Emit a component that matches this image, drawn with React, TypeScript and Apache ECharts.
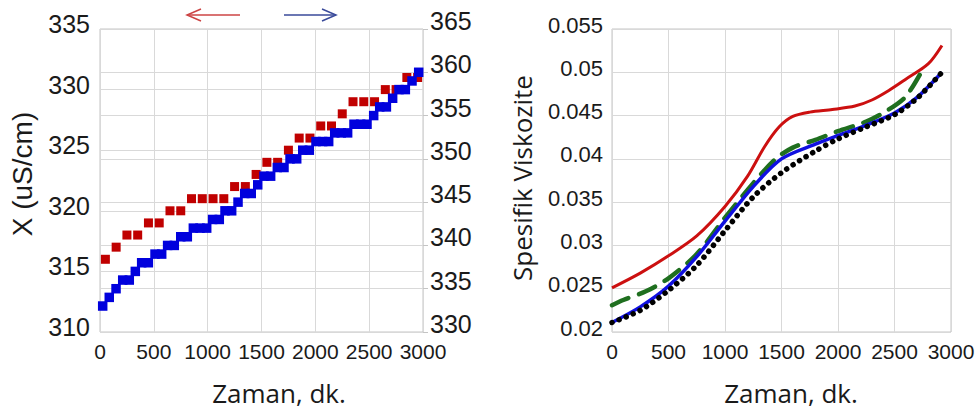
import React, { useEffect, useRef } from "react";
import * as echarts from "echarts";

// ---- Left panel: conductivity (two axes) ----
const redX = [50, 150, 250, 350, 450, 550, 650, 750, 850, 950, 1050, 1150, 1250, 1350, 1450, 1550, 1650, 1750, 1850, 1950, 2050, 2150, 2250, 2350, 2450, 2550, 2650, 2750, 2850, 2950];
const redVals = [316, 317, 318, 318, 319, 319, 320, 320, 321, 321, 321, 321, 322, 322, 323, 324, 324, 325, 326, 326, 327, 327, 328, 329, 329, 329, 330, 330, 331, 331];

const blueX = [25, 86, 149, 211, 272, 328, 387, 449, 511, 573, 628, 690, 750, 811, 867, 929, 991, 1046, 1108, 1161, 1223, 1282, 1344, 1405, 1465, 1523, 1585, 1647, 1709, 1765, 1827, 1883, 1944, 2006, 2068, 2124, 2180, 2241, 2300, 2359, 2421, 2480, 2542, 2598, 2660, 2718, 2777, 2836, 2898, 2960];
const blueVals = [333, 334, 335, 336, 336, 337, 338, 338, 339, 339, 340, 340, 341, 341, 342, 342, 342, 343, 343, 344, 344, 345, 346, 346, 347, 348, 348, 349, 349, 350, 350, 351, 351, 352, 352, 352, 353, 353, 353, 354, 354, 354, 355, 356, 356, 357, 358, 358, 359, 360];

const xTicks = [0, 500, 1000, 1500, 2000, 2500, 3000];

// ---- Right panel: specific viscosity ----
const visRedX = [0, 250, 500, 750, 1000, 1200, 1350, 1480, 1600, 1750, 1950, 2150, 2300, 2450, 2600, 2800, 2920];
const visRedV = [0.0251, 0.0268, 0.0288, 0.0311, 0.0345, 0.038, 0.0414, 0.0437, 0.0449, 0.0454, 0.0457, 0.0461, 0.0468, 0.0479, 0.0492, 0.051, 0.0531];

const visGreenX = [0, 100, 300, 500, 750, 1000, 1250, 1450, 1600, 1800, 2000, 2250, 2450, 2600, 2740];
const visGreenV = [0.0231, 0.0237, 0.0247, 0.0262, 0.029, 0.0332, 0.0372, 0.04, 0.0413, 0.0422, 0.0432, 0.0443, 0.0457, 0.0472, 0.0501];

const visBlueX = [0, 250, 500, 750, 1000, 1250, 1500, 1800, 2000, 2250, 2500, 2700, 2920];
const visBlueV = [0.0211, 0.0229, 0.0253, 0.0287, 0.0328, 0.0368, 0.04, 0.0417, 0.0427, 0.0439, 0.0453, 0.0471, 0.05];

const visBlackX = [0, 250, 500, 750, 1000, 1250, 1500, 1800, 2000, 2250, 2500, 2700, 2920];
const visBlackV = [0.0211, 0.0225, 0.0248, 0.0277, 0.0317, 0.0356, 0.0384, 0.0409, 0.0423, 0.0437, 0.0451, 0.047, 0.05];

const zip = (xs: number[], ys: number[]) => xs.map((x, i) => [x, ys[i]]);

const TICK_FONT = "Liberation Sans";
const TITLE_FONT = "Open Sans";
const GRID_COLOR = "#d9d9d9";

export default function App() {
  const ref = useRef<HTMLDivElement>(null);

  useEffect(() => {
    if (!ref.current) return;
    const chart = echarts.init(ref.current, undefined, { renderer: "svg" });

    const xAxisBase = (gridIndex: number) => ({
      gridIndex,
      type: "value" as const,
      min: xTicks[0],
      max: xTicks[xTicks.length - 1],
      interval: 500,
      axisLine: { show: false },
      axisTick: { show: false },
      splitLine: { show: true, lineStyle: { color: GRID_COLOR, width: 1 } },
      axisLabel: {
        fontSize: 21,
        fontFamily: TICK_FONT,
        color: "#1a1a1a",
        margin: 9,
        showMinLabel: true,
        showMaxLabel: true,
        formatter: (v: number) => String(v),
      },
    });

    const yLabel = (fontSize: number, margin: number, lift: number, extra: any = {}) => ({
      fontSize,
      fontFamily: TICK_FONT,
      color: "#1a1a1a",
      margin,
      verticalAlign: "bottom",
      lineHeight: lift * 2,
      showMinLabel: true,
      showMaxLabel: true,
      ...extra,
    });

    const lineSeries = (xs: number[], ys: number[], lineStyle: any) => ({
      type: "line",
      xAxisIndex: 1,
      yAxisIndex: 2,
      smooth: 0.3,
      showSymbol: false,
      lineStyle,
      data: zip(xs, ys),
    });

    const option: any = {
      animation: false,
      backgroundColor: "#ffffff",
      grid: [
        { left: 100, top: 29, width: 323, height: 303, show: true, borderColor: "#c4c4c4", borderWidth: 1, backgroundColor: "transparent" },
        { left: 612, top: 29, width: 339, height: 303, show: true, borderColor: "#c4c4c4", borderWidth: 1, backgroundColor: "transparent" },
      ],
      xAxis: [xAxisBase(0), xAxisBase(1)],
      yAxis: [
        {
          gridIndex: 0,
          type: "value",
          position: "left",
          min: 310,
          max: 335,
          interval: 5,
          axisLine: { show: false },
          axisTick: { show: false },
          splitLine: { show: true, lineStyle: { color: GRID_COLOR } },
          axisLabel: yLabel(25, 10, 5),
        },
        {
          gridIndex: 0,
          type: "value",
          position: "right",
          min: 330,
          max: 365,
          interval: 5,
          axisLine: { show: false },
          axisTick: { show: true, length: 5, lineStyle: { color: "#c4c4c4" } },
          splitLine: { show: true, lineStyle: { color: GRID_COLOR } },
          axisLabel: yLabel(25, 7, 8),
        },
        {
          gridIndex: 1,
          type: "value",
          position: "left",
          min: 0.02,
          max: 0.055,
          interval: 0.005,
          axisLine: { show: false },
          axisTick: { show: false },
          splitLine: { show: true, lineStyle: { color: GRID_COLOR } },
          axisLabel: yLabel(22, 9, 4, {
            formatter: (v: number) => String(parseFloat(v.toFixed(4))),
          }),
        },
      ],
      series: [
        {
          type: "scatter",
          xAxisIndex: 0,
          yAxisIndex: 0,
          symbol: "rect",
          symbolSize: 9,
          itemStyle: { color: "#c00000", opacity: 1 },
          data: zip(redX, redVals),
        },
        {
          type: "scatter",
          xAxisIndex: 0,
          yAxisIndex: 1,
          symbol: "rect",
          symbolSize: 9.5,
          itemStyle: { color: "#0000dd", opacity: 1 },
          data: zip(blueX, blueVals),
        },
        lineSeries(visRedX, visRedV, { color: "#cc1010", width: 3 }),
        lineSeries(visGreenX, visGreenV, { color: "#1f6f1f", width: 4.5, type: [18, 11], cap: "round" }),
        lineSeries(visBlueX, visBlueV, { color: "#1010e0", width: 3.5 }),
        lineSeries(visBlackX, visBlackV, { color: "#000000", width: 5.5, type: [0.1, 7.5], cap: "round" }),
      ],
      graphic: [
        // direction arrows
        { type: "line", shape: { x1: 187, y1: 15, x2: 240, y2: 15 }, style: { stroke: "#cc4444", lineWidth: 1.5 } },
        { type: "polyline", shape: { points: [[201, 9], [187, 15], [201, 21]] }, style: { stroke: "#cc4444", lineWidth: 1.5, fill: "none" } },
        { type: "line", shape: { x1: 284, y1: 15, x2: 336, y2: 15 }, style: { stroke: "#3a4a9a", lineWidth: 1.5 } },
        { type: "polyline", shape: { points: [[322, 9], [336, 15], [322, 21]] }, style: { stroke: "#3a4a9a", lineWidth: 1.5, fill: "none" } },
        // axis titles
        {
          type: "text",
          x: 22,
          y: 174,
          rotation: Math.PI / 2,
          style: { text: "X (uS/cm)", font: `28px "${TICK_FONT}"`, fill: "#1a1a1a", textAlign: "center", textVerticalAlign: "middle" },
        },
        {
          type: "text",
          x: 279,
          y: 393,
          style: { text: "Zaman, dk.", font: `26px "${TITLE_FONT}"`, fill: "#1a1a1a", textAlign: "center", textVerticalAlign: "middle" },
        },
        {
          type: "text",
          x: 522,
          y: 178,
          rotation: Math.PI / 2,
          style: { text: "Spesifik Viskozite", font: `26px "${TITLE_FONT}"`, fill: "#1a1a1a", textAlign: "center", textVerticalAlign: "middle" },
        },
        {
          type: "text",
          x: 791,
          y: 393,
          style: { text: "Zaman, dk.", font: `26px "${TITLE_FONT}"`, fill: "#1a1a1a", textAlign: "center", textVerticalAlign: "middle" },
        },
      ],
    };

    chart.setOption(option);
    return () => chart.dispose();
  }, []);

  return (
    <div
      ref={ref}
      style={{ position: "fixed", left: 0, top: 0, width: 979, height: 410, background: "#fff" }}
    />
  );
}
